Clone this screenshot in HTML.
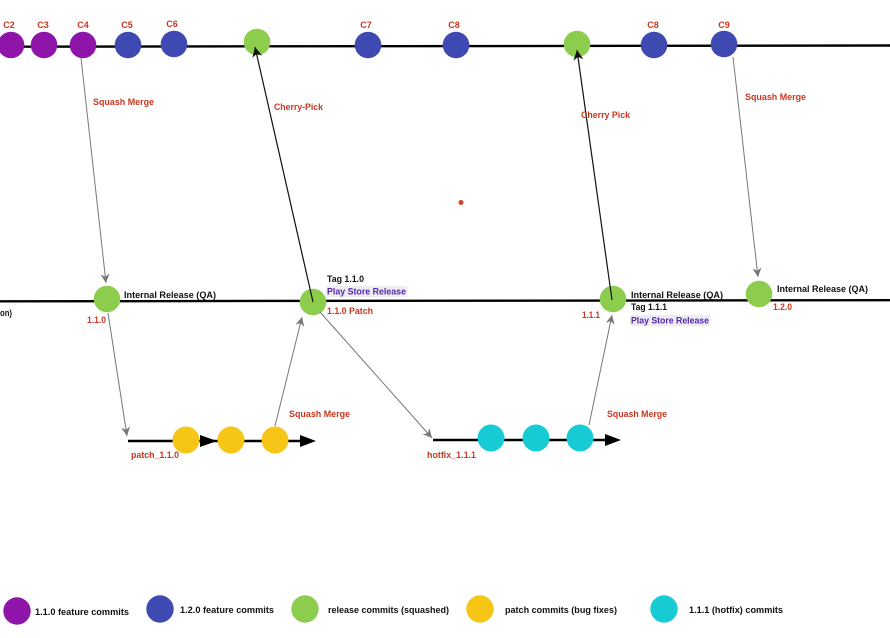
<!DOCTYPE html>
<html>
<head>
<meta charset="utf-8">
<style>
html,body{margin:0;padding:0;background:#fff;}
svg{display:block;}
text{font-family:"Liberation Sans",sans-serif;font-weight:bold;font-size:9px;}
.r{fill:#c9371f;}
.k{fill:#111;}
.p{fill:#5526b0;}
</style>
</head>
<body>
<svg width="890" height="638" viewBox="0 0 890 638" xmlns="http://www.w3.org/2000/svg">
<defs>
<marker id="ag" viewBox="0 0 10 10" refX="10" refY="5" markerWidth="9" markerHeight="9" markerUnits="userSpaceOnUse" orient="auto">
<path d="M0,0 L10,5 L0,10 L3,5 z" fill="#777"/>
</marker>
<marker id="ak" viewBox="0 0 10 10" refX="10" refY="5" markerWidth="10" markerHeight="10" markerUnits="userSpaceOnUse" orient="auto">
<path d="M0,0 L10,5 L0,10 L3,5 z" fill="#111"/>
</marker>
</defs>

<!-- main lines -->
<line x1="0" y1="46.7" x2="890" y2="45.5" stroke="#000" stroke-width="2.4"/>
<line x1="0" y1="301.3" x2="890" y2="300.2" stroke="#000" stroke-width="2.4"/>

<!-- top commits -->
<circle cx="11" cy="45" r="13.3" fill="#8f14a9"/>
<circle cx="44" cy="45" r="13.3" fill="#8f14a9"/>
<circle cx="83" cy="45" r="13.3" fill="#8f14a9"/>
<circle cx="128" cy="45" r="13.3" fill="#3f49b2"/>
<circle cx="174" cy="44" r="13.3" fill="#3f49b2"/>
<circle cx="257" cy="42" r="13.3" fill="#8ccd4d"/>
<circle cx="368" cy="45" r="13.3" fill="#3f49b2"/>
<circle cx="456" cy="45" r="13.3" fill="#3f49b2"/>
<circle cx="577" cy="44" r="13.3" fill="#8ccd4d"/>
<circle cx="654" cy="45" r="13.3" fill="#3f49b2"/>
<circle cx="724" cy="44" r="13.3" fill="#3f49b2"/>

<text class="r" x="9" y="28" text-anchor="middle">C2</text>
<text class="r" x="43" y="28" text-anchor="middle">C3</text>
<text class="r" x="83" y="28" text-anchor="middle">C4</text>
<text class="r" x="127" y="28" text-anchor="middle">C5</text>
<text class="r" x="172" y="27" text-anchor="middle">C6</text>
<text class="r" x="366" y="28" text-anchor="middle">C7</text>
<text class="r" x="454" y="28" text-anchor="middle">C8</text>
<text class="r" x="653" y="28" text-anchor="middle">C8</text>
<text class="r" x="724" y="28" text-anchor="middle">C9</text>

<!-- middle commits -->
<circle cx="107" cy="299" r="13.3" fill="#8ccd4d"/>
<circle cx="313" cy="302" r="13.3" fill="#8ccd4d"/>
<circle cx="613" cy="299" r="13.3" fill="#8ccd4d"/>
<circle cx="759" cy="294" r="13.3" fill="#8ccd4d"/>

<!-- branches -->
<line x1="128" y1="441" x2="303" y2="441" stroke="#000" stroke-width="2.4"/>
<path d="M200,435 L217,441 L200,447 z" fill="#000"/>
<path d="M300,435 L316,441 L300,447 z" fill="#000"/>
<circle cx="186" cy="440" r="13.5" fill="#f6c516"/>
<circle cx="231" cy="440" r="13.5" fill="#f6c516"/>
<circle cx="275" cy="440" r="13.5" fill="#f6c516"/>

<line x1="433" y1="440" x2="608" y2="440" stroke="#000" stroke-width="2.4"/>
<path d="M605,434 L621,440 L605,446 z" fill="#000"/>
<circle cx="491" cy="438" r="13.5" fill="#17cbd5"/>
<circle cx="536" cy="438" r="13.5" fill="#17cbd5"/>
<circle cx="580" cy="438" r="13.5" fill="#17cbd5"/>

<!-- connectors -->
<line x1="81" y1="58" x2="106" y2="283" stroke="#777" stroke-width="1" marker-end="url(#ag)"/>
<line x1="108" y1="313" x2="127" y2="436" stroke="#777" stroke-width="1" marker-end="url(#ag)"/>
<line x1="275" y1="426" x2="302" y2="317" stroke="#777" stroke-width="1" marker-end="url(#ag)"/>
<line x1="313" y1="302" x2="255" y2="47" stroke="#111" stroke-width="1.2" marker-end="url(#ak)"/>
<line x1="320" y1="312" x2="432" y2="438" stroke="#777" stroke-width="1" marker-end="url(#ag)"/>
<line x1="589" y1="425" x2="612" y2="315" stroke="#777" stroke-width="1" marker-end="url(#ag)"/>
<line x1="612" y1="300" x2="577" y2="50" stroke="#111" stroke-width="1.2" marker-end="url(#ak)"/>
<line x1="733" y1="57" x2="758" y2="277" stroke="#777" stroke-width="1" marker-end="url(#ag)"/>

<!-- connector labels -->
<text class="r" x="93" y="105" textLength="61" lengthAdjust="spacingAndGlyphs">Squash Merge</text>
<text class="r" x="274" y="110" textLength="49" lengthAdjust="spacingAndGlyphs">Cherry-Pick</text>
<text class="r" x="581" y="118" textLength="49" lengthAdjust="spacingAndGlyphs">Cherry Pick</text>
<text class="r" x="745" y="100" textLength="61" lengthAdjust="spacingAndGlyphs">Squash Merge</text>
<text class="r" x="289" y="417" textLength="61" lengthAdjust="spacingAndGlyphs">Squash Merge</text>
<text class="r" x="607" y="417" textLength="60" lengthAdjust="spacingAndGlyphs">Squash Merge</text>

<!-- middle labels -->
<text class="k" x="0" y="316" textLength="12" lengthAdjust="spacingAndGlyphs">on)</text>
<text class="k" x="124" y="298" textLength="92" lengthAdjust="spacingAndGlyphs">Internal Release (QA)</text>
<text class="r" x="87" y="323" textLength="19" lengthAdjust="spacingAndGlyphs">1.1.0</text>

<text class="k" x="327" y="282" textLength="37" lengthAdjust="spacingAndGlyphs">Tag 1.1.0</text>
<rect x="326" y="286" width="81" height="11" fill="#ececf1"/>
<text class="p" x="327" y="294.5" textLength="79" lengthAdjust="spacingAndGlyphs">Play Store Release</text>
<text class="r" x="327" y="314" textLength="46" lengthAdjust="spacingAndGlyphs">1.1.0 Patch</text>

<text class="k" x="631" y="298" textLength="92" lengthAdjust="spacingAndGlyphs">Internal Release (QA)</text>
<text class="k" x="631" y="310" textLength="36" lengthAdjust="spacingAndGlyphs">Tag 1.1.1</text>
<rect x="630" y="315" width="80" height="11" fill="#ececf1"/>
<text class="p" x="631" y="323.5" textLength="78" lengthAdjust="spacingAndGlyphs">Play Store Release</text>
<text class="r" x="582" y="318" textLength="18" lengthAdjust="spacingAndGlyphs">1.1.1</text>

<text class="k" x="777" y="292" textLength="91" lengthAdjust="spacingAndGlyphs">Internal Release (QA)</text>
<text class="r" x="773" y="310" textLength="19" lengthAdjust="spacingAndGlyphs">1.2.0</text>

<text class="r" x="131" y="458" textLength="48" lengthAdjust="spacingAndGlyphs">patch_1.1.0</text>
<text class="r" x="427" y="458" textLength="49" lengthAdjust="spacingAndGlyphs">hotfix_1.1.1</text>

<!-- red dot -->
<circle cx="461" cy="202.5" r="2.5" fill="#d0452a"/>

<!-- legend -->
<circle cx="17" cy="611" r="13.7" fill="#8f14a9"/>
<text class="k" x="35" y="615" textLength="94" lengthAdjust="spacingAndGlyphs">1.1.0 feature commits</text>
<circle cx="160" cy="609" r="13.7" fill="#3f49b2"/>
<text class="k" x="180" y="613" textLength="94" lengthAdjust="spacingAndGlyphs">1.2.0 feature commits</text>
<circle cx="305" cy="609" r="13.7" fill="#8ccd4d"/>
<text class="k" x="328" y="613" textLength="121" lengthAdjust="spacingAndGlyphs">release commits (squashed)</text>
<circle cx="480" cy="609" r="13.7" fill="#f6c516"/>
<text class="k" x="505" y="613" textLength="112" lengthAdjust="spacingAndGlyphs">patch commits (bug fixes)</text>
<circle cx="664" cy="609" r="13.7" fill="#17cbd5"/>
<text class="k" x="689" y="613" textLength="94" lengthAdjust="spacingAndGlyphs">1.1.1 (hotfix) commits</text>
</svg>
</body>
</html>
